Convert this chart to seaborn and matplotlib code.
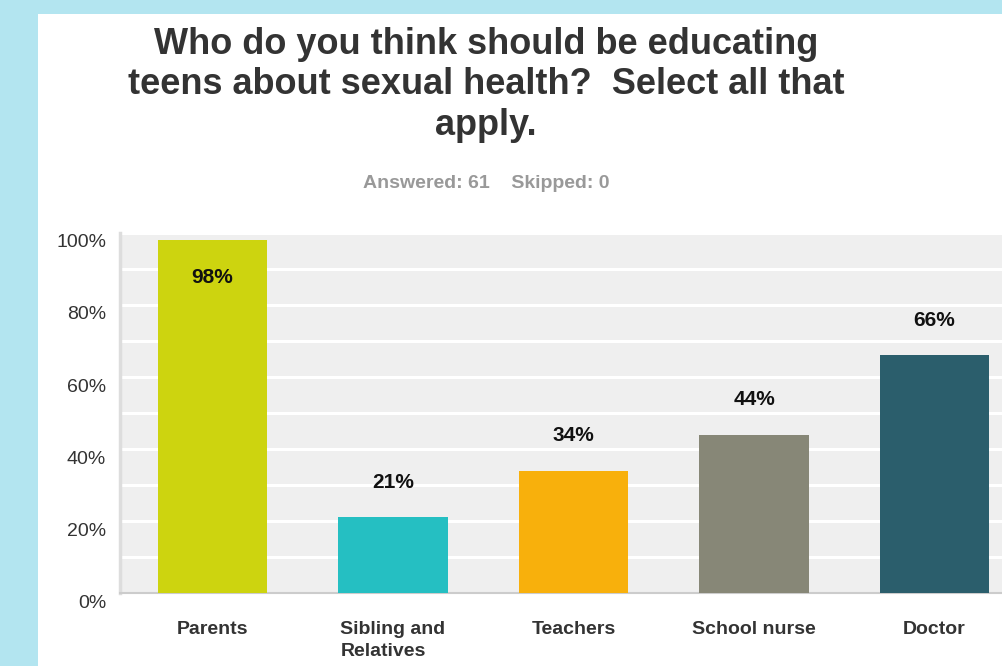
import matplotlib
matplotlib.use("Agg")
import matplotlib.pyplot as plt
import matplotlib.transforms as mtransforms
from matplotlib.patches import Rectangle
import seaborn as sns
import pandas as pd

categories = ["Parents", "Sibling and\nRelatives", "Teachers", "School nurse", "Doctor"]
values = [98, 21, 34, 44, 66]
colors = ["#cdd40f", "#25bfc2", "#f8b00c", "#878777", "#2b5e6c"]
yticks = [0, 20, 40, 60, 80, 100]
title = "Who do you think should be educating\nteens about sexual health?  Select all that\napply."
subtitle = "Answered: 61    Skipped: 0"

sns.set_theme(style="white")
plt.rcParams["font.family"] = ["Liberation Sans", "DejaVu Sans"]

W, H = 1002, 666
fig = plt.figure(figsize=(W / 100, H / 100), dpi=100, facecolor="#b3e5f0")
fig.patches.append(Rectangle((38 / W, 0), 1, (H - 14) / H, transform=fig.transFigure,
                             facecolor="white", edgecolor="none", zorder=-10))

ax = fig.add_axes([120 / W, (H - 593) / H, (W - 120) / W, (593 - 233) / H])
ax.set_zorder(1)
ax.set_facecolor("#efefef")

df = pd.DataFrame({"cat": categories, "val": values})
sns.barplot(data=df, x="cat", y="val", hue="cat", palette=colors, legend=False,
            width=0.604, saturation=1, ax=ax, zorder=3, edgecolor="none", linewidth=0)

ax.set_xlim(-0.5125, (W - 212.5) / 180.5)
ax.set_ylim(0, 100)
ax.set_yticks(yticks)
ax.set_yticks(range(10, 100, 20), minor=True)
ax.set_yticklabels([f"{t}%" for t in yticks])
ax.grid(True, axis="y", which="both", color="white", linewidth=2.2, zorder=1)
ax.set_axisbelow(True)
ax.set_xlabel("")
ax.set_ylabel("")

ax.tick_params(axis="y", which="both", length=0, pad=10, labelsize=14, labelcolor="#333333")
ax.tick_params(axis="x", length=0, pad=20, labelsize=14, labelcolor="#333333")
for lbl in ax.get_xticklabels():
    lbl.set_fontweight("bold")
    lbl.set_multialignment("left")
    lbl.set_linespacing(1.4)
offset = mtransforms.ScaledTranslation(0, -8 / 100, fig.dpi_scale_trans)
for lbl in ax.get_yticklabels():
    lbl.set_transform(lbl.get_transform() + offset)

for s in ["top", "right"]:
    ax.spines[s].set_visible(False)
ax.spines["left"].set_color("#dddddd")
ax.spines["left"].set_linewidth(2.5)
ax.spines["bottom"].set_color("#cccccc")
ax.spines["bottom"].set_linewidth(1.5)

for i, v in enumerate(values):
    dy = 25 if v < 90 else -26.5
    ax.annotate(f"{v}%", xy=(i, v), xytext=(0, dy), textcoords="offset points",
                ha="center", va="center", fontsize=15, fontweight="bold", color="#111111",
                zorder=5)

fig.text(486 / W, 1 - 85 / H, title, ha="center", va="center", fontsize=26,
         fontweight="bold", color="#333333", linespacing=1.2)
fig.text(486 / W, 1 - 183 / H, subtitle, ha="center", va="center", fontsize=14,
         fontweight="bold", color="#999999")

fig.savefig("out.png", dpi=100, facecolor=fig.get_facecolor())
